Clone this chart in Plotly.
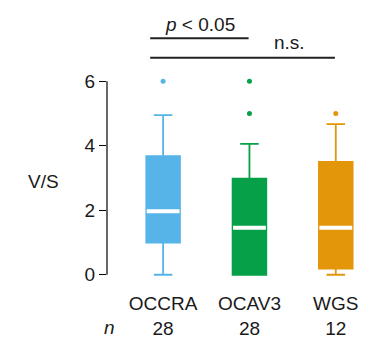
import plotly.graph_objects as go

# ---- data ----
groups = ["OCCRA", "OCAV3", "WGS"]
n_counts = ["28", "28", "12"]
colors = ["#56B4E9", "#05A047", "#E3960A"]
lower_whisker = [0.0, 0.0, 0.0]
q1 = [1.0, 0.0, 0.19]
median = [1.97, 1.46, 1.46]
q3 = [3.68, 2.98, 3.5]
upper_whisker = [4.95, 4.06, 4.67]
outliers = [[6.0], [5.0, 6.0], [5.0]]
y_ticks = [0, 2, 4, 6]

FONT = "Liberation Sans, Arial, Helvetica, sans-serif"
FS = 19
BOXW = 0.39
TXT = "#1a1a1a"

fig = go.Figure()
for i, g in enumerate(groups):
    fig.add_trace(go.Box(
        x=[i], q1=[q1[i]], median=[median[i]], q3=[q3[i]],
        lowerfence=[lower_whisker[i]], upperfence=[upper_whisker[i]],
        width=BOXW, whiskerwidth=0.55,
        fillcolor=colors[i], line=dict(color=colors[i], width=1.8),
        boxpoints=False, showlegend=False, hoverinfo="skip",
    ))
    # white median line
    fig.add_trace(go.Scatter(
        x=[i - BOXW / 2 + 0.005, i + BOXW / 2 - 0.005], y=[median[i], median[i]],
        mode="lines", line=dict(color="white", width=4),
        showlegend=False, hoverinfo="skip",
    ))
    fig.add_trace(go.Scatter(
        x=[i] * len(outliers[i]), y=outliers[i], mode="markers",
        marker=dict(color=colors[i], size=5), cliponaxis=False,
        showlegend=False, hoverinfo="skip",
    ))

# y axis line from 0 to 6
fig.add_shape(type="line", xref="paper", yref="y", x0=0, x1=0,
              y0=y_ticks[0], y1=y_ticks[-1], line=dict(color="black", width=1.2))

# significance bars
fig.add_shape(type="line", xref="x", yref="paper", x0=-0.15, x1=0.99,
              y0=1.1985, y1=1.1985, line=dict(color="#222", width=2))
fig.add_shape(type="line", xref="x", yref="paper", x0=-0.15, x1=1.99,
              y0=1.1015, y1=1.1015, line=dict(color="#222", width=2))
fig.add_annotation(x=0.43, y=1.27, xref="x", yref="paper", showarrow=False,
                   xanchor="center", yanchor="middle",
                   text="<i>p</i> < 0.05", font=dict(size=FS, color=TXT, family=FONT))
fig.add_annotation(x=1.46, y=1.175, xref="x", yref="paper", showarrow=False,
                   xanchor="center", yanchor="middle",
                   text="n.s.", font=dict(size=FS, color=TXT, family=FONT))

# y label
fig.add_annotation(x=-0.245, y=0.485, xref="paper", yref="paper", showarrow=False,
                   xanchor="center", yanchor="middle",
                   text="V/S", font=dict(size=FS, color=TXT, family=FONT))
# n label
fig.add_annotation(x=-0.62, y=-0.245, xref="x", yref="paper", showarrow=False,
                   xanchor="center", yanchor="middle",
                   text="<i>n</i>", font=dict(size=FS, color=TXT, family=FONT))

fig.update_layout(
    width=368, height=343,
    margin=dict(l=107, r=1.5, t=78, b=65),
    paper_bgcolor="white", plot_bgcolor="white",
    font=dict(family=FONT, size=FS, color=TXT),
    xaxis=dict(range=[-0.65, 2.35], tickmode="array", tickvals=[0, 1, 2],
               ticktext=[f"{g}<br>{n}" for g, n in zip(groups, n_counts)],
               showgrid=False, zeroline=False, showline=False, ticks="",
               ticklabelstandoff=12,
               tickfont=dict(size=FS, color=TXT)),
    yaxis=dict(range=[-0.1, 6.1], tickmode="array", tickvals=y_ticks,
               showgrid=False, zeroline=False, showline=False,
               ticks="outside", ticklen=7, tickcolor="black", tickwidth=1.2,
               tickfont=dict(size=FS, color=TXT)),
)

fig.write_html("out.html")
